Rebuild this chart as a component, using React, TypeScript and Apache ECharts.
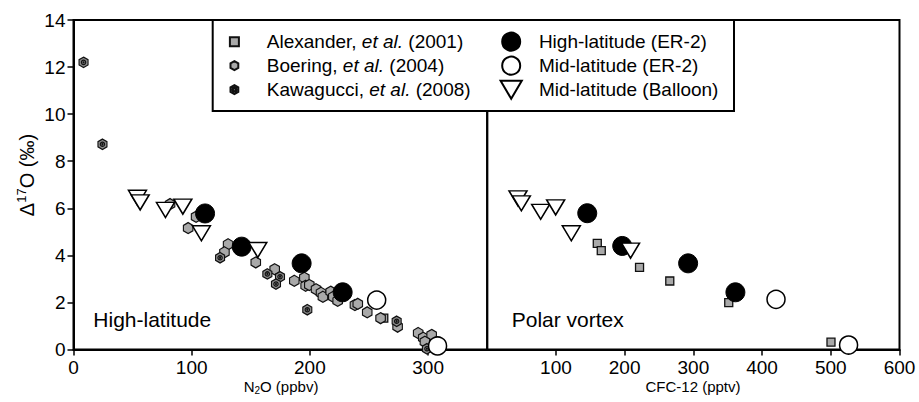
import React, { useEffect, useRef } from 'react';
import * as echarts from 'echarts';

// Left panel: [N2O (ppbv), Δ17O (‰)]
const alexanderN2O = [[262.5, 1.33]];
const boeringN2O = [
  [81.7, 6.18], [103.7, 5.64], [97, 5.16], [130.8, 4.47], [127.7, 4.13], [154.2, 3.7],
  [170.2, 3.41], [186.8, 2.92], [195.3, 3.05], [196.4, 2.71], [199.5, 2.74], [205.2, 2.56],
  [209.4, 2.41], [211, 2.24], [217.6, 2.46], [219.8, 2.24], [223.5, 2.07], [238.1, 1.89],
  [240.5, 1.94], [248.5, 1.58], [259.8, 1.33], [274.2, 0.97], [291.6, 0.7], [295.9, 0.5],
  [303, 0.62], [297.3, 0.33],
];
const kawagucciN2O = [
  [8.5, 12.2], [24.5, 8.72], [124, 3.9], [164, 3.21], [174.7, 3.09], [171.3, 2.78],
  [197.8, 1.69], [273.4, 1.2], [299, 0.03],
];
const highER2N2O = [[111.3, 5.78], [142.3, 4.37], [193, 3.66], [227.7, 2.43]];
const midER2N2O = [[256.5, 2.1], [308, 0.15]];
const balloonN2O = [[54.1, 6.45], [56.4, 6.25], [77.8, 5.93], [92.5, 6.07], [108.2, 4.94], [155.9, 4.23]];

// Right panel: [CFC-12 (pptv), Δ17O (‰)]
const alexanderCFC = [[160.2, 4.51], [166, 4.2], [221.7, 3.49], [265.7, 2.91], [351.5, 1.99], [500.3, 0.31]];
const highER2CFC = [[145.6, 5.79], [196.5, 4.4], [292.4, 3.66], [361.2, 2.43]];
const midER2CFC = [[420.3, 2.13], [525.9, 0.19]];
const balloonCFC = [[44.8, 6.42], [49.7, 6.21], [77.8, 5.85], [99.6, 6.04], [122.4, 4.94], [208.6, 4.2]];

const leftTicks = [0, 100, 200, 300];
const rightTicks = [100, 200, 300, 400, 500, 600];

const NAMES = {
  alex: 'Alexander, et al. (2001)',
  boer: 'Boering, et al. (2004)',
  kawa: 'Kawagucci, et al. (2008)',
  high: 'High-latitude (ER-2)',
  mid: 'Mid-latitude (ER-2)',
  ball: 'Mid-latitude (Balloon)',
};

const FONT = 'Liberation Sans, Arial, sans-serif';
const SQ = 'path://M0,0L10,0L10,10L0,10Z';
const HEX = 'path://M8.66,0L17.32,5L17.32,15L8.66,20L0,15L0,5Z';
const HEX_DOT =
  'path://M8.66,0L17.32,5L17.32,15L8.66,20L0,15L0,5Z' +
  'M12.86,10A4.2,4.2,0,1,1,4.46,10A4.2,4.2,0,1,1,12.86,10Z' +
  'M9.66,10A1,1,0,1,1,7.66,10A1,1,0,1,1,9.66,10Z';
const TRI = 'path://M0,0L20,0L10,17Z';

export default function App() {
  const ref = useRef<HTMLDivElement>(null);
  useEffect(() => {
    if (!ref.current) return;
    const chart = echarts.init(ref.current, null, { renderer: 'svg' });
    const gray = '#a9a9a9';
    const sq = { symbol: SQ, symbolSize: 8, itemStyle: { color: gray, borderColor: '#111', borderWidth: 1.3, opacity: 1 } };
    const hx = { symbol: HEX, symbolSize: [9.5, 11], itemStyle: { color: gray, borderColor: '#111', borderWidth: 1.2, opacity: 1 } };
    const kw = { symbol: HEX_DOT, symbolSize: [9, 10.4], itemStyle: { color: '#8a8a8a', borderColor: '#111', borderWidth: 1.2, opacity: 1 } };
    const hi = { symbol: 'circle', symbolSize: 19, itemStyle: { color: '#000', borderColor: '#000', borderWidth: 1, opacity: 1 } };
    const mi = { symbol: 'circle', symbolSize: 18, itemStyle: { color: '#fff', borderColor: '#000', borderWidth: 1.5, opacity: 1 } };
    const tr = { symbol: TRI, symbolSize: [18, 15], itemStyle: { color: '#fff', borderColor: '#000', borderWidth: 1.5, opacity: 1 } };
    const mk = (name: string, data: number[][], style: any, idx: number) => ({
      type: 'scatter', name, data, xAxisIndex: idx, yAxisIndex: idx, ...style,
    });
    const axisBase = {
      axisLine: { show: true, lineStyle: { color: '#000', width: 2 } },
      axisTick: { show: true, inside: false, length: 6, lineStyle: { color: '#000', width: 1.5 } },
      splitLine: { show: false },
      axisLabel: { color: '#000', fontSize: 19, fontFamily: FONT, margin: 8 },
    };
    const legendText = {
      color: '#000', fontSize: 19, fontFamily: FONT, lineHeight: 24,
      rich: { i: { fontStyle: 'italic', fontSize: 19, fontFamily: FONT, color: '#000', lineHeight: 24 } },
    };
    const fmt = (n: string) => n.replace('et al.', '{i|et al.}');
    chart.setOption({
      animation: false,
      backgroundColor: '#fff',
      grid: [
        { left: 73.5, top: 20, width: 413.7, height: 329.5, show: true, borderColor: '#000', borderWidth: 2 },
        { left: 487.2, top: 20, width: 412.3, height: 329.5, show: true, borderColor: '#000', borderWidth: 2 },
      ],
      xAxis: [
        {
          type: 'value', gridIndex: 0, min: 0, max: 350, interval: 100, ...axisBase,
          axisTick: { ...axisBase.axisTick, customValues: leftTicks },
          axisLabel: { ...axisBase.axisLabel, customValues: leftTicks },
        },
        {
          type: 'value', gridIndex: 1, min: 0, max: 600, interval: 100, ...axisBase,
          axisTick: { ...axisBase.axisTick, customValues: rightTicks },
          axisLabel: { ...axisBase.axisLabel, customValues: rightTicks },
        },
      ],
      yAxis: [
        { type: 'value', gridIndex: 0, min: 0, max: 14, interval: 2, ...axisBase },
        { type: 'value', gridIndex: 1, min: 0, max: 14, interval: 2, show: false },
      ],
      legend: [
        {
          orient: 'vertical', left: 228.9, top: 29.7, padding: 0, itemWidth: 54.8, itemHeight: 9, itemGap: 0,
          selectedMode: false, data: [NAMES.alex, NAMES.boer, NAMES.kawa],
          formatter: fmt, textStyle: legendText, z: 5,
        },
        {
          orient: 'vertical', left: 499.6, top: 29.7, padding: 0, itemWidth: 45.4, itemHeight: 18, itemGap: 0,
          selectedMode: false, data: [NAMES.high, NAMES.mid, NAMES.ball],
          formatter: fmt, textStyle: legendText, z: 5,
        },
      ],
      graphic: [
        {
          type: 'rect', z: 3, shape: { x: 212.7, y: 20, width: 521.3, height: 91 },
          style: { fill: '#fff', stroke: '#000', lineWidth: 2 },
        },
        {
          type: 'text', x: 27, y: 175, rotation: Math.PI / 2, z: 3,
          style: {
            text: '{a|Δ}{s|17}{a|O (‰)}', align: 'center', verticalAlign: 'middle',
            rich: {
              a: { fontSize: 20, fontFamily: FONT, fill: '#000', lineHeight: 24 } as any,
              s: { fontSize: 13, fontFamily: FONT, fill: '#000', lineHeight: 14, verticalAlign: 'top' } as any,
            },
          },
        },
        {
          type: 'text', x: 281, y: 386, z: 3,
          style: {
            text: '{a|N}{b|2}{a|O (ppbv)}', align: 'center', verticalAlign: 'middle',
            rich: {
              a: { fontSize: 15, fontFamily: FONT, fill: '#000', lineHeight: 18 } as any,
              b: { fontSize: 10, fontFamily: FONT, fill: '#000', lineHeight: 11, verticalAlign: 'bottom' } as any,
            },
          },
        },
        {
          type: 'text', x: 693, y: 386, z: 3,
          style: { text: 'CFC-12 (pptv)', align: 'center', verticalAlign: 'middle', fontSize: 15, fontFamily: FONT, fill: '#000' },
        },
        {
          type: 'text', x: 93.3, y: 319, z: 3,
          style: { text: 'High-latitude', align: 'left', verticalAlign: 'middle', fontSize: 21, fontFamily: FONT, fill: '#000' },
        },
        {
          type: 'text', x: 511.7, y: 319, z: 3,
          style: { text: 'Polar vortex', align: 'left', verticalAlign: 'middle', fontSize: 21, fontFamily: FONT, fill: '#000' },
        },
      ],
      series: [
        mk(NAMES.alex, alexanderN2O, sq, 0),
        mk(NAMES.boer, boeringN2O, hx, 0),
        mk(NAMES.kawa, kawagucciN2O, kw, 0),
        mk(NAMES.alex, alexanderCFC, sq, 1),
        mk(NAMES.high, highER2N2O, hi, 0),
        mk(NAMES.high, highER2CFC, hi, 1),
        mk(NAMES.mid, midER2N2O, mi, 0),
        mk(NAMES.mid, midER2CFC, mi, 1),
        mk(NAMES.ball, balloonN2O, tr, 0),
        mk(NAMES.ball, balloonCFC, tr, 1),
      ],
    });
    return () => chart.dispose();
  }, []);
  return <div ref={ref} style={{ position: 'absolute', left: 0, top: 0, width: 919, height: 402 }} />;
}
